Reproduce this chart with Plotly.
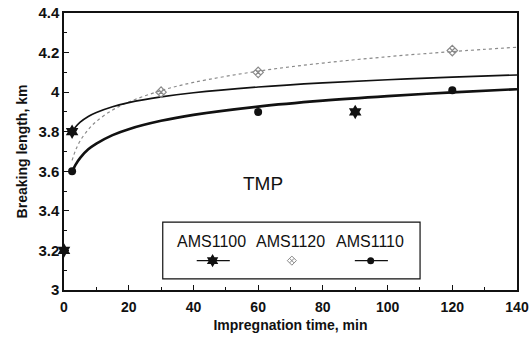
import plotly.graph_objects as go

# ---- data ----
# measured points
t_1100 = [0, 2.5, 90]
bl_1100 = [3.2, 3.8, 3.9]
t_1120 = [30, 60, 120]
bl_1120 = [4.0, 4.1, 4.21]
t_1110 = [2.5, 60, 120]
bl_1110 = [3.6, 3.9, 4.01]

# trend curves
t_curve = [2.5, 3.5, 5, 7.5, 10, 15, 20, 30, 40, 60, 80, 100, 120, 140]
curve_1100 = [3.798, 3.822, 3.848, 3.877, 3.897, 3.926, 3.947, 3.976, 3.997, 4.026, 4.047, 4.063, 4.076, 4.087]
curve_1110 = [3.596, 3.631, 3.668, 3.711, 3.740, 3.783, 3.813, 3.855, 3.885, 3.927, 3.957, 3.980, 3.999, 4.015]
curve_1120 = [3.655, 3.703, 3.754, 3.811, 3.852, 3.910, 3.950, 4.008, 4.049, 4.106, 4.147, 4.179, 4.205, 4.227]

series_names = ["AMS1100", "AMS1120", "AMS1110"]
x_ticks = [0, 20, 40, 60, 80, 100, 120, 140]
y_ticks = [3, 3.2, 3.4, 3.6, 3.8, 4, 4.2, 4.4]
y_tick_text = ["3", "3.2", "3.4", "3.6", "3.8", "4", "4.2", "4.4"]

FONT = "Liberation Sans"
BLACK = "#111111"
GRAY = "#8a8a8a"

fig = go.Figure()

# curves
fig.add_trace(go.Scatter(x=t_curve, y=curve_1120, mode="lines", line=dict(color=GRAY, width=1.2, dash="dot", shape="spline"), showlegend=False))
fig.add_trace(go.Scatter(x=t_curve, y=curve_1100, mode="lines", line=dict(color=BLACK, width=1.6, shape="spline"), showlegend=False))
fig.add_trace(go.Scatter(x=t_curve, y=curve_1110, mode="lines", line=dict(color=BLACK, width=2.6, shape="spline"), showlegend=False))

# points
fig.add_trace(go.Scatter(x=t_1100, y=bl_1100, mode="markers", marker=dict(symbol="hexagram", size=11, color=BLACK), showlegend=False, cliponaxis=False))
fig.add_trace(go.Scatter(x=t_1120, y=bl_1120, mode="markers", marker=dict(symbol="diamond-x-open", size=8, color=GRAY, line=dict(width=1.2, color=GRAY)), showlegend=False))
fig.add_trace(go.Scatter(x=t_1110, y=bl_1110, mode="markers", marker=dict(symbol="circle", size=8, color=BLACK), showlegend=False))

# ---- custom legend drawn on an overlay axis (0..1 spans the plot area) ----
leg_label_x = [0.326, 0.500, 0.675]
leg_label_y = 0.174
leg_sym_y = 0.106
fig.add_trace(go.Scatter(x=[0.293, 0.366], y=[leg_sym_y, leg_sym_y], mode="lines", line=dict(color=BLACK, width=1.2), xaxis="x2", yaxis="y2", showlegend=False))
fig.add_trace(go.Scatter(x=[0.328], y=[leg_sym_y], mode="markers", marker=dict(symbol="hexagram", size=10, color=BLACK), xaxis="x2", yaxis="y2", showlegend=False))
fig.add_trace(go.Scatter(x=[0.503], y=[leg_sym_y], mode="markers", marker=dict(symbol="diamond-x-open", size=7, color=GRAY, line=dict(width=1, color=GRAY)), xaxis="x2", yaxis="y2", showlegend=False))
fig.add_trace(go.Scatter(x=[0.642, 0.715], y=[leg_sym_y, leg_sym_y], mode="lines", line=dict(color=BLACK, width=1.2), xaxis="x2", yaxis="y2", showlegend=False))
fig.add_trace(go.Scatter(x=[0.677], y=[leg_sym_y], mode="markers", marker=dict(symbol="circle", size=7, color=BLACK), xaxis="x2", yaxis="y2", showlegend=False))

annotations = []
for name, lx in zip(series_names, leg_label_x):
    annotations.append(dict(x=lx, y=leg_label_y, xref="x2", yref="y2", text=name, showarrow=False,
                            font=dict(family=FONT, size=16, color=BLACK), xanchor="center", yanchor="middle"))
annotations.append(dict(x=0.439, y=0.386, xref="x2", yref="y2", text="TMP", showarrow=False,
                        font=dict(family=FONT, size=19, color=BLACK), xanchor="center", yanchor="middle"))

shapes = [dict(type="rect", xref="x2", yref="y2", x0=0.218, x1=0.786, y0=0.040, y1=0.245,
               line=dict(color=BLACK, width=1.2), fillcolor="rgba(0,0,0,0)")]

fig.update_layout(
    width=532, height=337,
    margin=dict(l=64, r=15, t=13, b=47, autoexpand=False),
    paper_bgcolor="white", plot_bgcolor="white",
    font=dict(family=FONT, color=BLACK),
    annotations=annotations,
    shapes=shapes,
    xaxis=dict(range=[0, 140], tickvals=x_ticks, ticks="inside", ticklen=5, tickcolor=BLACK, automargin=False,
               showline=True, linecolor=BLACK, linewidth=1.5, mirror=True, showgrid=False, zeroline=False,
               minor=dict(dtick=10, ticks="inside", ticklen=3, tickcolor=BLACK),
               ticklabelstandoff=3,
               tickfont=dict(family=FONT, size=14, weight="bold", color=BLACK),
               title=dict(text="Impregnation time, min", standoff=7,
                          font=dict(family=FONT, size=14, weight="bold", color=BLACK))),
    yaxis=dict(range=[3, 4.4], tickvals=y_ticks, ticktext=y_tick_text, ticks="inside", ticklen=5, tickcolor=BLACK, automargin=False,
               showline=True, linecolor=BLACK, linewidth=1.5, mirror=True, showgrid=False, zeroline=False,
               minor=dict(dtick=0.1, ticks="inside", ticklen=3, tickcolor=BLACK),
               tickfont=dict(family=FONT, size=15, weight="bold", color=BLACK),
               title=dict(text="Breaking length, km", standoff=7,
                          font=dict(family=FONT, size=14, weight="bold", color=BLACK))),
    xaxis2=dict(overlaying="x", range=[0, 1], visible=False, fixedrange=True),
    yaxis2=dict(overlaying="y", range=[0, 1], visible=False, fixedrange=True),
)

fig.write_html("out.html")
